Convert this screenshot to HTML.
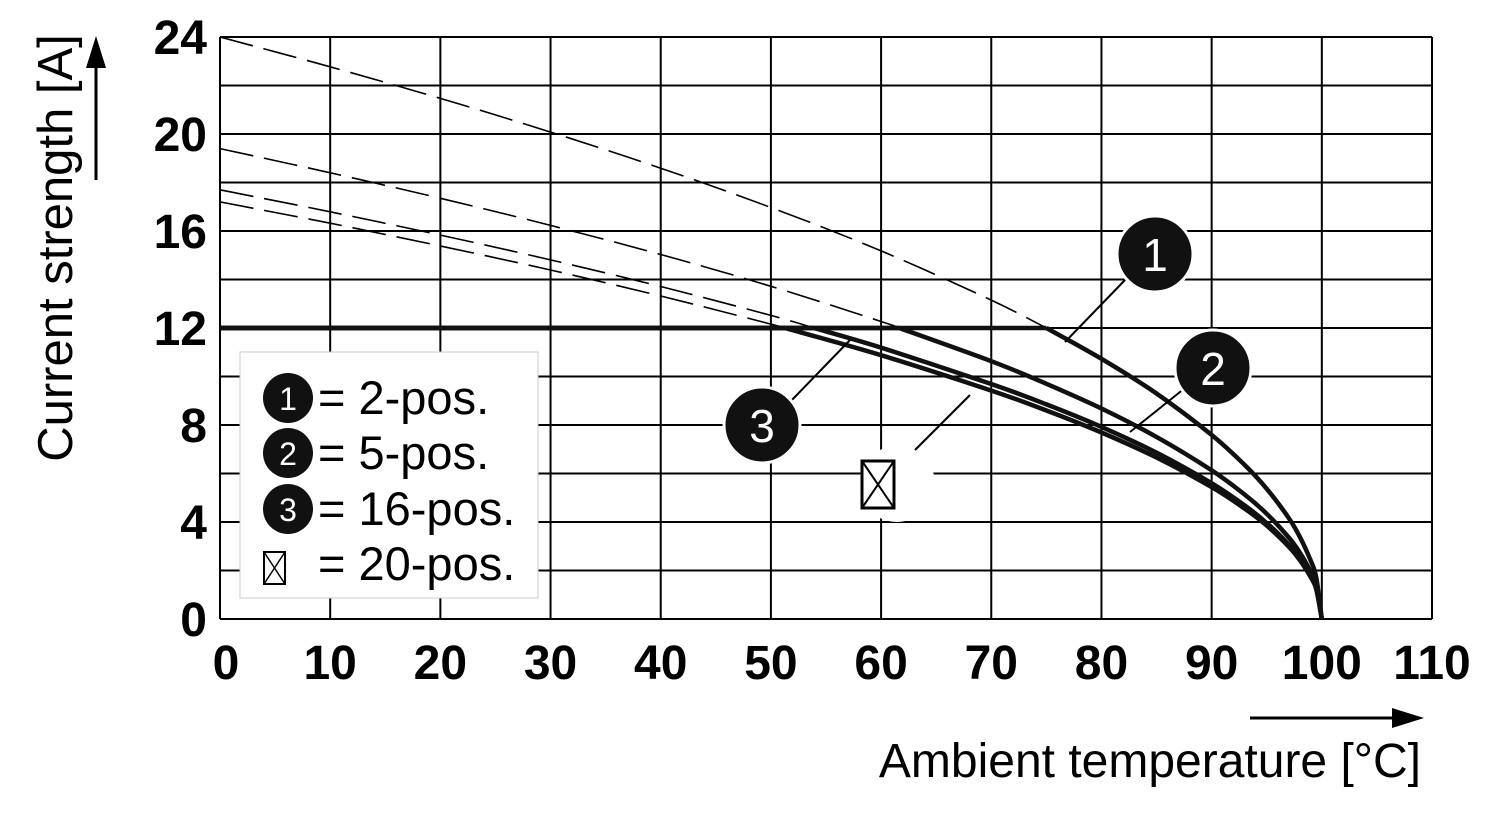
<!DOCTYPE html>
<html><head><meta charset="utf-8"><style>
body{margin:0;background:#fff}
svg{display:block;font-family:"Liberation Sans",sans-serif}
</style></head><body>
<svg id="chart" width="1500" height="820">
<g id="grid"></g>
<g id="ticks"></g>
<g id="series"></g>
<g>
<text transform="translate(72,248) rotate(-90)" text-anchor="middle" font-size="49">Current strength [A]</text>
<line x1="96" y1="180" x2="96" y2="62" stroke="#000" stroke-width="3"/>
<polygon points="96,36 86,68 106,68" fill="#000"/>
</g>
<g>
<text x="1421" y="777" text-anchor="end" font-size="48">Ambient temperature [°C]</text>
<line x1="1250" y1="718" x2="1400" y2="718" stroke="#000" stroke-width="3"/>
<polygon points="1424,718 1392,708 1392,728" fill="#000"/>
</g>
<g>
<rect x="240" y="352" width="298" height="246" fill="#fff" stroke="#ccc" stroke-width="1"/>
<g><circle cx="288" cy="398" r="25" fill="#111"/><text x="288" y="410" fill="#fff" font-size="32" text-anchor="middle">1</text><text x="318" y="414" font-size="47">= 2-pos.</text></g>
<g><circle cx="288" cy="453" r="25" fill="#111"/><text x="288" y="465" fill="#fff" font-size="32" text-anchor="middle">2</text><text x="318" y="469" font-size="47">= 5-pos.</text></g>
<g><circle cx="288" cy="509" r="25" fill="#111"/><text x="288" y="521" fill="#fff" font-size="32" text-anchor="middle">3</text><text x="318" y="525" font-size="47">= 16-pos.</text></g>
<g><rect x="264" y="552" width="21" height="32" fill="none" stroke="#000" stroke-width="2"/><path d="M264 552L285 584M285 552L264 584" stroke="#000" stroke-width="1.5"/><text x="318" y="580" font-size="47">= 20-pos.</text></g>
</g>
<g>
<line x1="1065" y1="342" x2="1125" y2="280" stroke="#000" stroke-width="2"/>
<circle cx="1155" cy="254" r="38" fill="#111" stroke="#fff" stroke-width="3"/>
<text x="1155" y="271" fill="#fff" font-size="46" text-anchor="middle">1</text>
<line x1="1130" y1="432" x2="1185" y2="388" stroke="#000" stroke-width="2"/>
<circle cx="1213" cy="368" r="38" fill="#111" stroke="#fff" stroke-width="3"/>
<text x="1213" y="385" fill="#fff" font-size="46" text-anchor="middle">2</text>
<line x1="850" y1="340" x2="790" y2="402" stroke="#000" stroke-width="2"/>
<circle cx="762" cy="425" r="38" fill="#111" stroke="#fff" stroke-width="3"/>
<text x="762" y="442" fill="#fff" font-size="46" text-anchor="middle">3</text>
<line x1="915" y1="450" x2="970" y2="395" stroke="#000" stroke-width="2"/>
<circle cx="897" cy="484" r="38" fill="#fff"/>
<rect x="862" y="461" width="32" height="47" fill="none" stroke="#000" stroke-width="3"/>
<path d="M862 461L894 508M894 461L862 508" stroke="#000" stroke-width="2"/>
</g>
</svg>
<script>
const xTicks=[0,10,20,30,40,50,60,70,80,90,100,110];
const yTicks=[0,4,8,12,16,20,24];
const temps=[0,10,20,30,40,50,60,70,75,80,85,90,93,95,97,98,99,99.5,100];
const series1=[24,22.77,21.47,20.08,18.59,16.97,15.18,13.15,12,10.73,9.30,7.59,6.35,5.37,4.16,3.39,2.4,1.70,0];
const series2=[19.4,18.40,17.35,16.23,15.03,13.72,12.27,10.63,9.70,8.68,7.51,6.13,5.13,4.34,3.36,2.74,1.94,1.37,0];
const series3=[17.7,16.79,15.83,14.81,13.71,12.52,11.19,9.69,8.85,7.92,6.86,5.60,4.68,3.96,3.07,2.50,1.77,1.25,0];
const series4=[17.2,16.32,15.38,14.39,13.32,12.16,10.88,9.42,8.60,7.69,6.66,5.44,4.55,3.85,2.98,2.43,1.72,1.22,0];
const ratedCurrent=12;
const X=t=>220+t*(1432-220)/110;
const Y=v=>619-v*(619-37)/24;
const NS="http://www.w3.org/2000/svg";
function mk(tag,attrs,parent){const e=document.createElementNS(NS,tag);for(const k in attrs)e.setAttribute(k,attrs[k]);parent.appendChild(e);return e;}
const grid=document.getElementById('grid'),ticks=document.getElementById('ticks'),ser=document.getElementById('series');
for(let v=0;v<=24;v+=2){const l=mk('line',{x1:X(0),x2:X(110),y1:Y(v),y2:Y(v),stroke:'#000','stroke-width':2},grid);

}
for(const t of xTicks){const l=mk('line',{x1:X(t),x2:X(t),y1:Y(0),y2:Y(24),stroke:'#000','stroke-width':2},grid);


const tx=mk('text',{x:X(t)+(t===0?6:0),y:679,'text-anchor':'middle','font-size':48,'font-weight':'bold'},ticks);tx.textContent=t;

}
for(const v of yTicks){const tx=mk('text',{x:207,y:Y(v)+17,'text-anchor':'end','font-size':48,'font-weight':'bold'},ticks);tx.textContent=v;

}
function smooth(pts){
 const P=pts.map(q=>[X(q[0]),Y(q[1])]);
 let d='M'+P[0][0].toFixed(1)+' '+P[0][1].toFixed(1);
 for(let i=0;i<P.length-1;i++){
  const p0=P[Math.max(0,i-1)],p1=P[i],p2=P[i+1],p3=P[Math.min(P.length-1,i+2)];
  const c1=[p1[0]+(p2[0]-p0[0])/6,p1[1]+(p2[1]-p0[1])/6];
  const c2=[p2[0]-(p3[0]-p1[0])/6,p2[1]-(p3[1]-p1[1])/6];
  d+='C'+c1[0].toFixed(1)+' '+c1[1].toFixed(1)+' '+c2[0].toFixed(1)+' '+c2[1].toFixed(1)+' '+p2[0].toFixed(1)+' '+p2[1].toFixed(1);
 }
 return d;
}
function draw(vals,name){
 let dashed=[],solid=[],cross=null;
 for(let i=0;i<temps.length;i++){
  if(vals[i]>ratedCurrent){dashed.push([temps[i],vals[i]]);}
  else{ if(cross===null){const a=i-1;const f=(vals[a]-ratedCurrent)/(vals[a]-vals[i]);cross=temps[a]+f*(temps[i]-temps[a]);dashed.push([cross,ratedCurrent]);solid.push([cross,ratedCurrent]);}
   if(temps[i]!==cross) solid.push([temps[i],vals[i]]);}
 }
 const d=mk('path',{d:smooth(dashed),fill:'none',stroke:'#000','stroke-width':1.6,'stroke-dasharray':'34 11'},ser);
 
 
 const h=mk('line',{x1:X(0),y1:Y(ratedCurrent),x2:X(cross),y2:Y(ratedCurrent),stroke:'#111','stroke-width':4.5},ser);
 
 
 const s=mk('path',{d:smooth(solid),fill:'none',stroke:'#111','stroke-width':4.5,'stroke-linejoin':'round'},ser);
 
 
}
draw(series1,'curve-2-pos');draw(series2,'curve-5-pos');draw(series3,'curve-16-pos');draw(series4,'curve-20-pos');
</script>
</body></html>
